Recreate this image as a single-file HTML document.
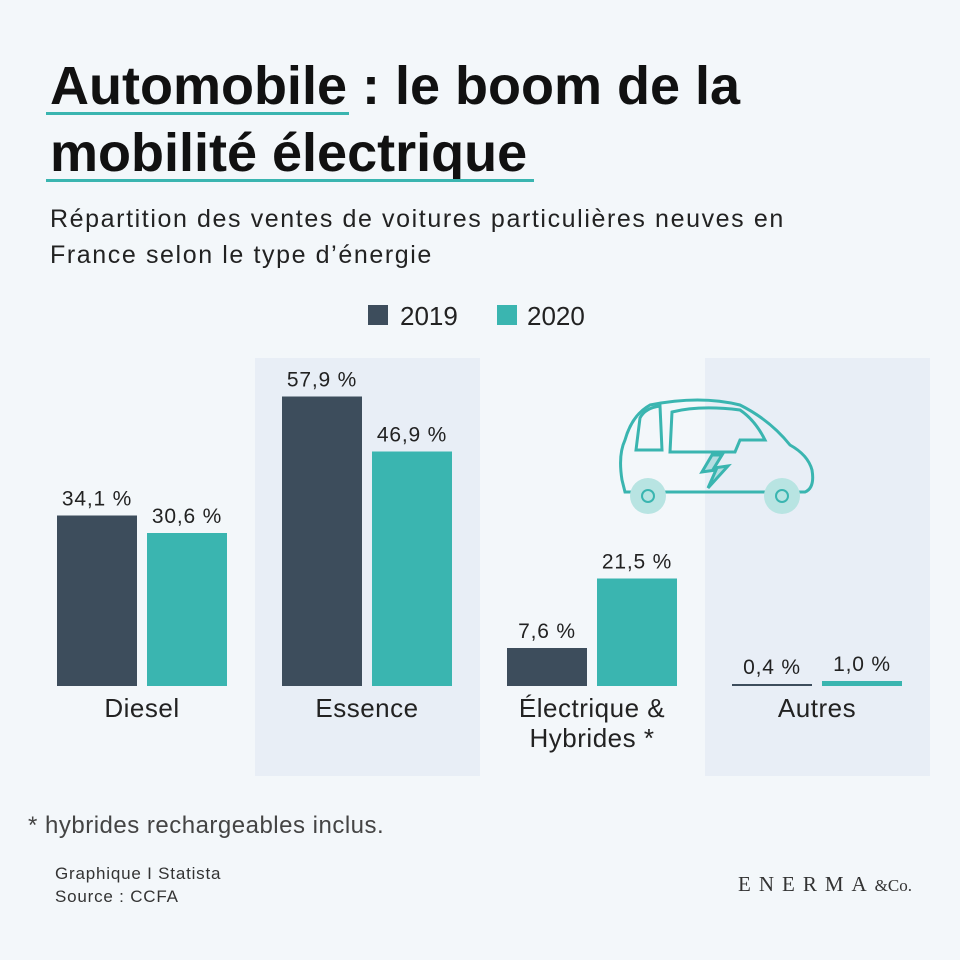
<!DOCTYPE html>
<html><head><meta charset="utf-8"><style>
body{margin:0;width:960px;height:960px;background:#f3f7fa;position:relative;overflow:hidden;font-family:"Liberation Sans",sans-serif;color:#111}
.a{position:absolute;white-space:nowrap}
</style></head><body>
<div class="a" style="left:50px;top:53px;font-size:54px;font-weight:bold;line-height:67px;letter-spacing:0px">Automobile : le boom de la<br>mobilité électrique</div>
<div class="a" style="left:46px;top:112px;width:303px;height:3px;background:#3ab5b0"></div>
<div class="a" style="left:46px;top:179px;width:488px;height:3px;background:#3ab5b0"></div>
<div class="a" style="left:50px;top:201px;font-size:25px;line-height:36px;color:#222;letter-spacing:1.6px">Répartition des ventes de voitures particulières neuves en<br>France selon le type d’énergie</div>
<svg class="a" style="left:0;top:0" width="960" height="960">
<g id="panels"></g><g id="car" fill="none" stroke="#3ab5b0" stroke-width="3">
<path d="M622 480 Q618 455 625 440 Q632 415 650 405 Q700 395 740 405 Q770 420 790 445 Q808 455 812 470 Q815 488 805 492 L625 492 Z"/>
<path d="M636 450 L640 418 Q645 408 660 406 L662 450 Z"/>
<path d="M670 452 L672 412 Q700 405 740 410 Q755 420 765 440 L740 440 L735 452 Z"/>
<path d="M712 455 L702 472 L716 470 L708 488 L728 466 L714 468 L722 455 Z" fill="#3ab5b0" fill-opacity="0.3"/>
<circle cx="648" cy="496" r="18" fill="#b8e4e2" stroke="none"/><circle cx="648" cy="496" r="6" stroke-width="2"/>
<circle cx="782" cy="496" r="18" fill="#b8e4e2" stroke="none"/><circle cx="782" cy="496" r="6" stroke-width="2"/>
</g><g id="bars"></g>
<g>
<rect x="368" y="305" width="20" height="20" fill="#3d4d5c"/><text x="400" y="325" font-size="26" fill="#222">2019</text>
<rect x="497" y="305" width="20" height="20" fill="#3ab5b0"/><text x="527" y="325" font-size="26" fill="#222">2020</text>
</g></svg>
<div class="a" style="left:28px;top:812px;font-size:24px;color:#444;letter-spacing:0.5px">* hybrides rechargeables inclus.</div>
<div class="a" style="left:55px;top:862px;font-size:17px;line-height:23px;color:#333;letter-spacing:0.8px">Graphique I Statista<br>Source : CCFA</div>
<div class="a" style="left:738px;top:872px;font-family:'Liberation Serif',serif;font-size:21px;letter-spacing:8px;color:#333">ENERMA<span style="font-size:17px;letter-spacing:0">&amp;Co.</span></div>
<script>
const categories=["Diesel","Essence","Électrique & Hybrides *","Autres"];
const labelLines=[["Diesel"],["Essence"],["Électrique &","Hybrides *"],["Autres"]];
const v2019=[34.1,57.9,7.6,0.4];
const v2020=[30.6,46.9,21.5,1.0];
const ns="http://www.w3.org/2000/svg";
const base=686,scale=5,groupX=i=>57+i*225,y=v=>base-v*scale;
const fmt=v=>v.toFixed(1).replace('.',',')+' %';
const bars=document.getElementById('bars'),panels=document.getElementById('panels');
function mk(t,a,p){const e=document.createElementNS(ns,t);for(const k in a)e.setAttribute(k,a[k]);p.appendChild(e);return e;}
categories.forEach((c,i)=>{
 if(i%2==1){const p=mk('rect',{x:groupX(i)-27,y:358,width:225,height:418,fill:'#e8eef6'},panels);
 
 }
 [[v2019,'#3d4d5c',0],[v2020,'#3ab5b0',90]].forEach(([arr,col,off],s)=>{
  const v=arr[i],x=groupX(i)+off,h=Math.max(v*scale,2);
  const r=mk('rect',{x:x,y:base-h,width:80,height:h,fill:col},bars);
  
  
  const t=mk('text',{x:x+40,y:base-h-10,'text-anchor':'middle','font-size':21,'letter-spacing':0.8,fill:'#222'},bars);
  t.textContent=fmt(v);
  
  
 });
 labelLines[i].forEach((l,j)=>{const t=mk('text',{x:groupX(i)+85,y:717+j*30,'text-anchor':'middle','font-size':26,'letter-spacing':0.5,fill:'#222'},bars);
  t.textContent=l;
  
  });
});
</script>
</body></html>
